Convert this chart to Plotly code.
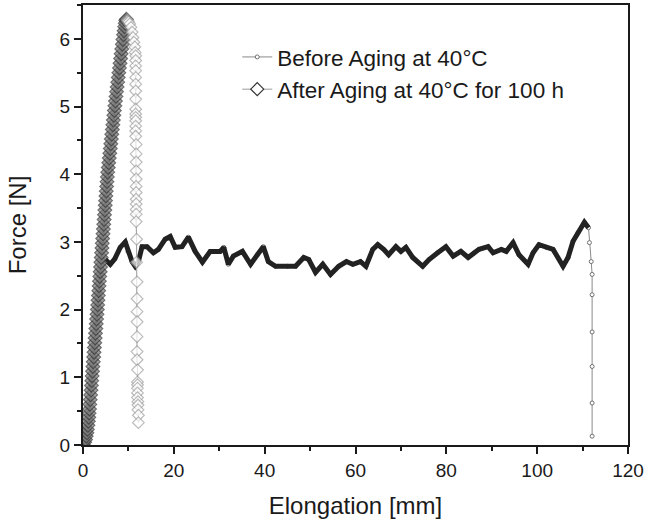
import plotly.graph_objects as go

# ---------------- data ----------------
before_name = "Before Aging at 40°C"
after_name = "After Aging at 40°C for 100 h"

before_x = [0.0, 0.6, 1.2, 1.8, 2.4, 3.0, 3.6, 4.2, 4.9,
            6.0, 7.0, 8.2, 9.3, 9.9, 10.8, 11.5, 12.2, 13.0, 14.1, 15.5, 16.6, 18.1, 19.2,
            20.3, 21.8, 23.2, 24.7, 26.3, 28.0, 30.2, 31.0, 32.0, 33.1, 35.1, 36.9, 38.4,
            39.7, 40.8, 42.4, 45.0, 46.8, 48.6, 49.7, 51.2, 52.8, 54.5, 56.3, 58.0, 59.4,
            61.1, 62.3, 63.8, 64.9, 66.2, 67.3, 68.9, 70.0, 71.1, 72.6, 74.8, 76.2, 78.1,
            79.9, 81.5, 83.2, 84.8, 86.1, 87.2, 89.2, 90.3, 92.1, 93.2, 94.7, 96.0, 98.0,
            99.1, 100.4, 102.0, 103.5, 105.7, 106.8, 107.9, 109.0, 110.4, 111.3, 111.5, 111.9,
            112.1, 112.1, 112.1, 112.1, 112.1, 112.1]
before_y = [0.0, 0.15, 0.45, 0.85, 1.3, 1.8, 2.25, 2.6, 2.74,
            2.67, 2.75, 2.92, 3.0, 2.86, 2.71, 2.64, 2.71, 2.93, 2.93, 2.84, 2.89, 3.04, 3.08,
            2.92, 2.93, 3.07, 2.86, 2.70, 2.86, 2.86, 2.92, 2.67, 2.79, 2.86, 2.67, 2.81,
            2.93, 2.71, 2.64, 2.64, 2.64, 2.77, 2.74, 2.55, 2.67, 2.52, 2.64, 2.71, 2.67,
            2.71, 2.64, 2.89, 2.96, 2.89, 2.81, 2.93, 2.86, 2.92, 2.77, 2.64, 2.74, 2.84,
            2.93, 2.79, 2.86, 2.77, 2.84, 2.89, 2.93, 2.84, 2.89, 2.86, 2.99, 2.81, 2.67,
            2.84, 2.96, 2.92, 2.89, 2.64, 2.77, 3.01, 3.14, 3.29, 3.21, 2.99, 2.71,
            2.52, 2.22, 1.67, 1.16, 0.62, 0.13]

after_x = [0.10, 0.35, 0.55, 0.72, 0.86, 0.98, 1.08, 1.18, 1.28, 1.36,
           1.43, 1.52, 1.60, 1.69, 1.78, 1.86, 1.94,
           2.02, 2.10, 2.18, 2.26, 2.35, 2.43, 2.51, 2.59, 2.67, 2.75, 2.83, 2.91, 2.99, 3.08, 3.16,
           3.24, 3.31, 3.39, 3.47, 3.55, 3.62, 3.70, 3.78, 3.86, 3.93, 4.01, 4.09, 4.17, 4.24,
           4.33, 4.41, 4.49, 4.57, 4.65, 4.73, 4.81, 4.89, 4.97, 5.05, 5.13, 5.21, 5.29, 5.37,
           5.45, 5.56, 5.67, 5.78, 5.90, 6.01, 6.12, 6.23, 6.34, 6.46, 6.57, 6.68, 6.79, 6.90,
           7.02, 7.14, 7.27, 7.40, 7.52, 7.65, 7.77, 7.90, 8.03, 8.15, 8.28, 8.40, 8.53, 8.66, 8.78,
           8.92, 9.05, 9.17, 9.30, 9.42, 9.55,
           9.80, 10.05, 10.30, 10.55, 10.80, 11.00, 11.20, 11.40, 11.50,
           11.6, 11.6, 11.6, 11.6, 11.6, 11.6, 11.6, 11.6, 11.6, 11.6, 11.6, 11.6, 11.6,
           11.6, 11.6, 11.7, 11.7, 11.7, 11.7, 11.7, 11.7, 11.7, 11.7, 11.7, 11.7, 11.7,
           11.7, 11.8, 11.8, 11.9, 11.9, 11.9, 11.9, 11.9, 11.9, 11.9, 12.0, 12.0, 12.0,
           12.0, 12.0, 12.0, 12.1, 12.1, 12.1, 12.2, 12.2]
after_y = [0.00, 0.04, 0.08, 0.13, 0.18, 0.23, 0.29, 0.35, 0.41, 0.47,
           0.53, 0.60, 0.67, 0.74, 0.81, 0.88, 0.95,
           1.02, 1.09, 1.16, 1.23, 1.30, 1.37, 1.44, 1.51, 1.58, 1.65, 1.72, 1.79, 1.86, 1.93, 2.00,
           2.07, 2.14, 2.21, 2.28, 2.35, 2.42, 2.49, 2.56, 2.63, 2.70, 2.77, 2.84, 2.91, 2.98,
           3.05, 3.12, 3.19, 3.26, 3.33, 3.40, 3.47, 3.54, 3.61, 3.68, 3.75, 3.82, 3.89, 3.96,
           4.03, 4.10, 4.17, 4.24, 4.31, 4.38, 4.45, 4.52, 4.59, 4.66, 4.73, 4.80, 4.87, 4.94,
           5.01, 5.08, 5.15, 5.22, 5.29, 5.36, 5.43, 5.50, 5.57, 5.64, 5.71, 5.78, 5.85, 5.92, 5.99,
           6.06, 6.12, 6.18, 6.23, 6.27, 6.29,
           6.27, 6.25, 6.22, 6.17, 6.10, 6.02, 5.95, 5.88, 5.80,
           5.75, 5.68, 5.6, 5.53, 5.43, 5.33, 5.23, 5.11, 4.96, 4.89, 4.84, 4.79, 4.71,
           4.64, 4.56, 4.44, 4.3, 4.18, 4.05, 3.93, 3.82, 3.73, 3.63, 3.56, 3.48, 3.41,
           3.3, 3.04, 2.70, 2.41, 2.16, 1.97, 1.82, 1.6, 1.38, 1.26, 1.11, 0.93, 0.89,
           0.84, 0.77, 0.70, 0.64, 0.59, 0.52, 0.44, 0.33]

x_ticks = [0, 20, 40, 60, 80, 100, 120]
y_ticks = [0, 1, 2, 3, 4, 5, 6]
x_title = "Elongation [mm]"
y_title = "Force [N]"

# ---------------- figure ----------------
FONT = "Liberation Sans, Arial, Helvetica, sans-serif"
INK = "#1a1a1a"

n_dense = before_x.index(111.9) + 1
peak_idx = after_y.index(max(after_y))
after_edge = ["#333333" if i <= peak_idx else "#a0a0a0" for i in range(len(after_x))]
after_fill = ["#7a7a7a" if i <= peak_idx else "white" for i in range(len(after_x))]
after_size = [10.5 if i <= peak_idx else 9 for i in range(len(after_x))]

fig = go.Figure()
fig.add_trace(go.Scatter(
    x=before_x, y=before_y, name=before_name, mode="lines+markers",
    line=dict(color="#8a8a8a", width=1),
    marker=dict(symbol="circle", size=4, color="white", line=dict(color="#707070", width=1)),
))
fig.add_trace(go.Scatter(
    x=before_x[8:n_dense - 2], y=before_y[8:n_dense - 2], mode="lines", showlegend=False,
    line=dict(color="#222222", width=5), hoverinfo="skip",
))
fig.add_trace(go.Scatter(
    x=after_x, y=after_y, name=after_name, mode="lines+markers", showlegend=False,
    legendgroup="after",
    line=dict(color="#9a9a9a", width=1),
    marker=dict(symbol="diamond", size=after_size, color=after_fill,
                line=dict(color=after_edge, width=1.2)),
))
# legend entry for the "after" series (open diamond, as in the original legend)
fig.add_trace(go.Scatter(
    x=[None], y=[None], name=after_name, mode="lines+markers", legendgroup="after",
    line=dict(color="#9a9a9a", width=1),
    marker=dict(symbol="diamond", size=10, color="white", line=dict(color="#333333", width=1.2)),
))

axis_common = dict(
    showline=True, linecolor=INK, linewidth=2, mirror=True,
    ticks="outside", ticklen=7, tickwidth=1.5, tickcolor=INK,
    showgrid=False, zeroline=False, automargin=False,
    tickfont=dict(family=FONT, size=19, color=INK),
)
fig.update_xaxes(
    range=[0, 120], tickvals=x_ticks, ticktext=[str(v) for v in x_ticks],
    minor=dict(dtick=10, ticks="outside", ticklen=4, tickwidth=1.5, tickcolor=INK),
    title=dict(text=x_title, font=dict(family=FONT, size=24, color=INK), standoff=17),
    **axis_common,
)
fig.update_yaxes(
    range=[0, 6.5], tickvals=y_ticks, ticktext=[str(v) for v in y_ticks],
    minor=dict(dtick=0.5, ticks="outside", ticklen=4, tickwidth=1.5, tickcolor=INK),
    title=dict(text=y_title, font=dict(family=FONT, size=24, color=INK), standoff=26),
    **axis_common,
)
fig.update_layout(
    width=649, height=525,
    margin=dict(l=83, r=21, t=5, b=80),
    paper_bgcolor="white", plot_bgcolor="white",
    font=dict(family=FONT, color=INK),
    legend=dict(
        x=0.283, y=0.93, xanchor="left", yanchor="top",
        bgcolor="rgba(0,0,0,0)", borderwidth=0,
        font=dict(family=FONT, size=22.5, color=INK),
        itemwidth=30, tracegroupgap=0,
    ),
)
fig.write_html("out.html", config={"displayModeBar": False},
               post_script="document.body.style.margin='0px';")
